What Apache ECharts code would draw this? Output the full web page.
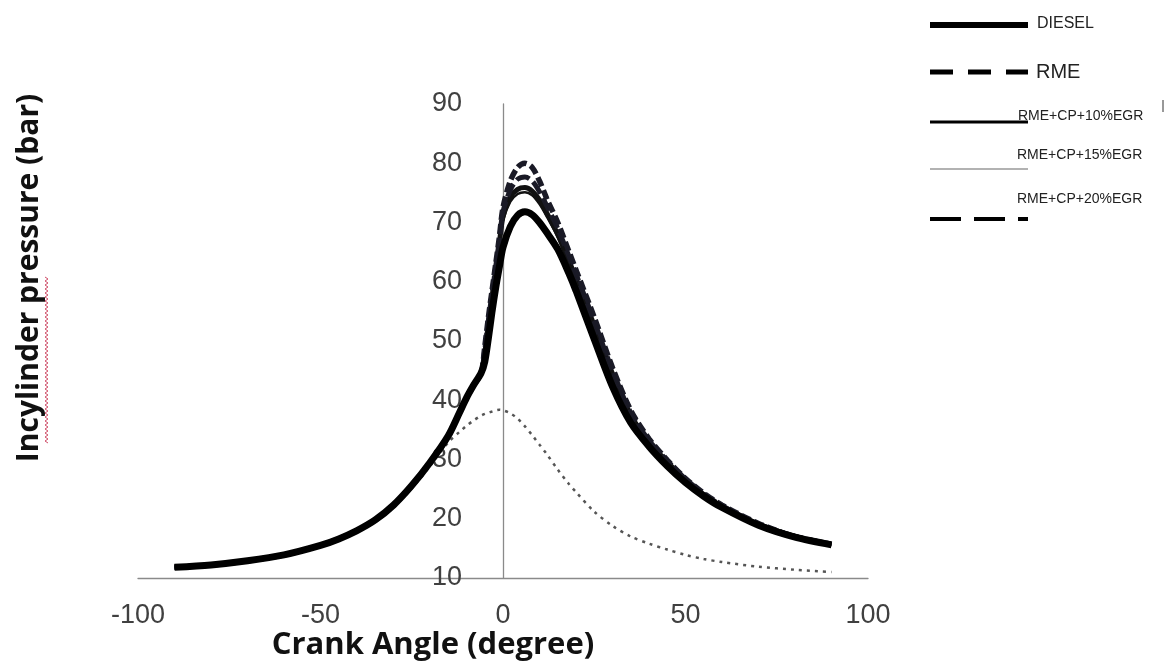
<!DOCTYPE html>
<html>
<head>
<meta charset="utf-8">
<script src="https://cdn.jsdelivr.net/npm/echarts@6/dist/echarts.min.js"></script>
<style>
html,body{margin:0;padding:0;background:#fff;}
#chart{width:1165px;height:662px;}
</style>
</head>
<body>
<div id="chart"></div>
<script>
// ---- data ----
const crankAngle = [-90,-80,-70,-60,-50,-45,-40,-35,-30,-25,-20,-15,-12,-10,-8,-6,-5,-4,-3,-2,-1,0,2,4,6,8,10,12,15,18,20,25,30,35,40,45,50,55,60,70,80,90];
const diesel    = [11.8,12.2,12.9,13.9,15.5,16.6,18.0,19.8,22.3,25.6,29.5,34.0,37.8,40.4,42.6,44.6,46.5,50.5,55.0,59.0,62.5,65.8,69.3,71.2,71.8,71.3,70.0,68.3,65.5,61.5,58.5,50.3,42.3,36.2,32.2,28.9,26.1,23.8,21.9,18.9,16.9,15.6];
const rme       = [11.8,12.2,12.9,13.9,15.5,16.6,18.0,19.8,22.3,25.6,29.5,34.0,37.8,40.4,42.6,44.6,49.0,54.0,58.5,63.0,67.5,72.5,77.0,79.3,80.0,79.3,77.0,74.0,70.0,65.2,62.0,54.0,45.5,38.3,33.5,29.9,26.8,24.3,22.3,19.2,17.0,15.7];
const rmeCp10   = [11.8,12.2,12.9,13.9,15.5,16.6,18.0,19.8,22.3,25.6,29.5,34.0,37.8,40.4,42.6,44.6,48.0,53.0,57.5,62.0,66.5,71.0,74.3,75.6,75.9,75.3,73.8,71.6,68.0,63.6,60.6,52.6,44.5,37.5,33.0,29.6,26.6,24.1,22.1,19.1,17.0,15.6];
const rmeCp15   = [11.8,12.2,12.9,13.9,15.5,16.6,18.0,19.8,22.3,25.6,29.5,34.0,37.8,40.4,42.6,44.6,47.5,52.5,57.0,61.5,66.0,70.3,73.5,74.8,75.1,74.6,73.1,71.0,67.5,63.2,60.2,52.2,44.2,37.2,32.9,29.5,26.5,24.0,22.1,19.0,16.9,15.6];
const rmeCp20   = [11.8,12.2,12.9,13.9,15.5,16.6,18.0,19.8,22.3,25.6,29.5,34.0,37.8,40.4,42.6,44.6,48.5,53.5,58.0,62.5,67.0,71.8,75.5,77.3,77.7,77.0,75.2,72.8,69.0,64.4,61.3,53.3,45.0,37.9,33.2,29.8,26.7,24.2,22.2,19.1,17.0,15.7];
const motoring  = [11.8,12.2,12.9,13.9,15.4,16.4,17.7,19.5,21.9,25.1,28.9,32.9,34.6,35.7,36.6,37.4,37.7,37.9,38.1,38.3,38.4,38.3,37.8,36.9,35.6,34.1,32.5,30.9,28.3,25.9,24.5,21.2,18.8,17.0,15.8,14.8,13.9,13.2,12.7,11.9,11.4,11.0];
const xTicks = {min:-100, max:100, interval:50};
const yTicks = {min:10, max:90, interval:10};
const seriesNames = ['DIESEL','RME','RME+CP+10%EGR','RME+CP+15%EGR','RME+CP+20%EGR'];
const xTitle = 'Crank Angle (degree)';
const yTitle = 'Incylinder pressure (bar)';

function pairs(ys){ return crankAngle.map((x,i)=>[x, ys[i]]); }

const chart = echarts.init(document.getElementById('chart'), null, {renderer:'canvas'});
const FONT = '"Liberation Sans", Arial, sans-serif';
const TFONT = '"Open Sans", "Liberation Sans", sans-serif';

const gridLeft = 138, gridWidth = 730;

// wavy spell-check underline (decoration)
const wave = [];
for (let y = 443, k = 0; y >= 277; y -= 2, k++) wave.push([k % 2 ? 45 : 48, y]);

const legendX1 = 930, legendX2 = 1028;
const graphic = [
  {type:'text', x:433, y:645, style:{text:xTitle, font:'bold 31px '+TFONT, fill:'#111', align:'center', verticalAlign:'middle'}},
  {type:'text', x:29, y:278, rotation:Math.PI/2, style:{text:yTitle, font:'bold 30px '+TFONT, fill:'#111', align:'center', verticalAlign:'middle'}},
  {type:'polyline', shape:{points:wave}, style:{stroke:'#d0506a', lineWidth:1, fill:null}},
  // legend
  {type:'line', shape:{x1:legendX1,y1:25,x2:legendX2,y2:25}, style:{stroke:'#000', lineWidth:6}},
  {type:'text', x:1037, y:24, style:{text:seriesNames[0], font:'16px '+FONT, fill:'#222', verticalAlign:'middle'}},
  {type:'line', shape:{x1:legendX1,y1:72,x2:legendX2,y2:72}, style:{stroke:'#000', lineWidth:5, lineDash:[23,15]}},
  {type:'text', x:1036, y:72, style:{text:seriesNames[1], font:'20px '+FONT, fill:'#222', verticalAlign:'middle'}},
  {type:'line', shape:{x1:legendX1,y1:122,x2:legendX2,y2:122}, style:{stroke:'#000', lineWidth:3}},
  {type:'text', x:1018, y:116, style:{text:seriesNames[2], font:'14px '+FONT, fill:'#222', verticalAlign:'middle'}},
  {type:'line', shape:{x1:1163,y1:100,x2:1163,y2:112}, style:{stroke:'#333', lineWidth:1}},
  {type:'line', shape:{x1:legendX1,y1:169,x2:legendX2,y2:169}, style:{stroke:'#666', lineWidth:1.2}},
  {type:'text', x:1017, y:155, style:{text:seriesNames[3], font:'14px '+FONT, fill:'#222', verticalAlign:'middle'}},
  {type:'line', shape:{x1:legendX1,y1:219,x2:legendX2,y2:219}, style:{stroke:'#000', lineWidth:4, lineDash:[31,13]}},
  {type:'text', x:1017, y:199, style:{text:seriesNames[4], font:'14px '+FONT, fill:'#222', verticalAlign:'middle'}}
];

const option = {
  animation:false,
  backgroundColor:'#fff',
  grid:{left:gridLeft, top:104, width:gridWidth, height:474, containLabel:false},
  xAxis:{
    type:'value', min:xTicks.min, max:xTicks.max, interval:xTicks.interval,
    axisLine:{show:true, onZero:false, lineStyle:{color:'#8a8a8a', width:1.3}},
    axisTick:{show:false}, splitLine:{show:false},
    axisLabel:{color:'#404040', fontSize:27, fontFamily:FONT, margin:24}
  },
  yAxis:{
    type:'value', min:yTicks.min, max:yTicks.max, interval:yTicks.interval,
    offset: -gridWidth * (0 - xTicks.min) / (xTicks.max - xTicks.min),
    axisLine:{show:true, onZero:false, lineStyle:{color:'#8a8a8a', width:1.3}},
    axisTick:{show:false}, splitLine:{show:false},
    axisLabel:{color:'#404040', fontSize:27, fontFamily:FONT, margin:41}
  },
  graphic: graphic,
  series:[
    {name:'Motoring', type:'line', data:pairs(motoring), symbol:'none', smooth:0.3, z:1,
      lineStyle:{color:'#555', width:2.5, type:[3,5]}},
    {name:seriesNames[3], type:'line', data:pairs(rmeCp15), symbol:'none', smooth:0.3, z:2,
      lineStyle:{color:'#111', width:2.5}},
    {name:seriesNames[2], type:'line', data:pairs(rmeCp10), symbol:'none', smooth:0.3, z:3,
      lineStyle:{color:'#111', width:5}},
    {name:seriesNames[4], type:'line', data:pairs(rmeCp20), symbol:'none', smooth:0.3, z:4,
      lineStyle:{color:'#1a1a26', width:5, type:[14,5]}},
    {name:seriesNames[1], type:'line', data:pairs(rme), symbol:'none', smooth:0.3, z:5,
      lineStyle:{color:'#1a1a26', width:5.5, type:[10,4]}},
    {name:seriesNames[0], type:'line', data:pairs(diesel), symbol:'none', smooth:0.3, z:6,
      lineStyle:{color:'#000', width:7}}
  ]
};
chart.setOption(option);
</script>
</body>
</html>
